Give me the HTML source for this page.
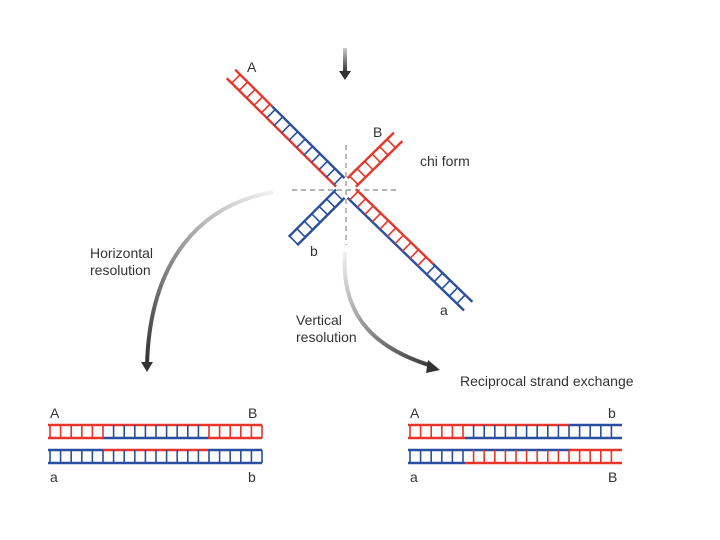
<!DOCTYPE html>
<html><head><meta charset="utf-8"><style>
html,body{margin:0;padding:0;background:#fff;width:720px;height:540px;overflow:hidden}
svg{display:block}
text{font-family:"Liberation Sans",sans-serif;font-size:14px;fill:#333}
</style></head><body>
<svg id="s" width="720" height="540" viewBox="0 0 720 540">
<defs>
<linearGradient id="g1" gradientUnits="userSpaceOnUse" x1="273" y1="192" x2="147" y2="365"><stop offset="0" stop-color="#f2f2f2"/><stop offset="1" stop-color="#333"/></linearGradient>
<linearGradient id="g2" gradientUnits="userSpaceOnUse" x1="345" y1="252" x2="437" y2="368"><stop offset="0" stop-color="#f0f0f0"/><stop offset="1" stop-color="#333"/></linearGradient>
<linearGradient id="g3" x1="0" y1="0" x2="0" y2="1"><stop offset="0" stop-color="#ccc"/><stop offset="1" stop-color="#333"/></linearGradient>
</defs>
<rect x="343" y="48" width="4" height="24" fill="url(#g3)"/>
<polygon points="339,71 351,71 345,80" fill="#333"/>
<line x1="346" y1="145" x2="346" y2="245" stroke="#777" stroke-dasharray="5,4"/>
<line x1="292" y1="190" x2="400" y2="190" stroke="#999" stroke-width="1.5" stroke-dasharray="5,4"/>
<path d="M273,192 C200,205 150,260 147,365" fill="none" stroke="url(#g1)" stroke-width="4"/>
<polygon points="141,362 153,362 147,372" fill="#333"/>
<path d="M345,252 C340,320 380,350 432,366" fill="none" stroke="url(#g2)" stroke-width="4"/>
<polygon points="428,360 440,370 426,373" fill="#333"/>
<g id="lad"></g>
<text x="247" y="72">A</text>
<text x="373" y="137">B</text>
<text x="420" y="166">chi form</text>
<text x="310" y="256">b</text>
<text x="440" y="315">a</text>
<text x="90" y="258">Horizontal</text>
<text x="90" y="275">resolution</text>
<text x="296" y="325">Vertical</text>
<text x="296" y="342">resolution</text>
<text x="460" y="386">Reciprocal strand exchange</text>
<text x="50" y="418">A</text><text x="248" y="418">B</text>
<text x="50" y="482">a</text><text x="248" y="482">b</text>
<text x="410" y="418">A</text><text x="608" y="418">b</text>
<text x="410" y="482">a</text><text x="608" y="482">B</text>
</svg>
<script>
var R="#e8352a",B="#2a4fa0",g=document.getElementById('lad'),h="";
function ln(x1,y1,x2,y2,c,w){h+='<line x1="'+x1+'" y1="'+y1+'" x2="'+x2+'" y2="'+y2+'" stroke="'+c+'" stroke-width="'+(w||2)+'"/>';}
function hl(x0,x1,y,top,bot,rung){
 top.forEach(function(s){ln(s[0],y,s[1],y,s[2],2.5)});
 bot.forEach(function(s){ln(s[0],y+13,s[1],y+13,s[2],2.5)});
 for(var x=x0+2;x<=x1;x+=10.6){var c=rung(x);ln(x,y,x,y+13,c,1.6);}
}
hl(48,262,425,[[48,262,R]],[[48,103,R],[103,208,B],[208,262,R]],function(x){return x<103||x>208?R:B});
hl(48,262,450,[[48,103,B],[103,208,R],[208,262,B]],[[48,262,B]],function(x){return B});
hl(408,622,425,[[408,570,R],[570,622,B]],[[408,465,R],[465,622,B]],function(x){return x<465?R:B});
hl(408,622,450,[[408,570,B],[570,622,R]],[[408,465,B],[465,622,R]],function(x){return x<465?B:R});
var cx=346,cy=188;
function arm(dx,dy,L,segs){
 var n=Math.hypot(dx,dy);dx/=n;dy/=n;var px=-dy,py=dx;
 segs.forEach(function(s){
  var a0=s[0],a1=s[1];
  ln(cx+dx*a0+px*6,cy+dy*a0+py*6,cx+dx*a1+px*6,cy+dy*a1+py*6,s[2],2.4);
  ln(cx+dx*a0-px*6,cy+dy*a0-py*6,cx+dx*a1-px*6,cy+dy*a1-py*6,s[3],2.4);
  for(var t=a0+3;t<a1;t+=10.5){ln(cx+dx*t+px*6,cy+dy*t+py*6,cx+dx*t-px*6,cy+dy*t-py*6,s[4],1.6);}
 });
}
arm(-114,-113,160,[[8,110,B,R,B],[110,162,R,R,R]]);
arm(52,-51,72,[[8,73,R,R,R]]);
arm(-53,53,74,[[8,75,B,B,B]]);
arm(121,117,170,[[8,115,B,R,R],[115,170,B,B,B]]);
g.innerHTML=h;
</script>
</body></html>
